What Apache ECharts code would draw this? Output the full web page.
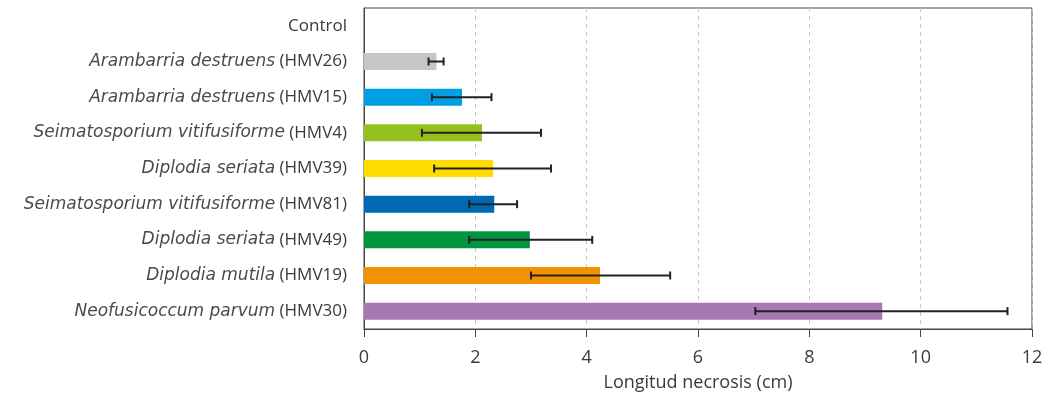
<!DOCTYPE html>
<html>
<head>
<meta charset="utf-8">
<script src="https://cdn.jsdelivr.net/npm/echarts@6/dist/echarts.min.js"></script>
<style>html,body{margin:0;padding:0;background:#fff;}#c{width:1047px;height:394px;}</style>
</head>
<body>
<div id="c"></div>
<script>
var species = ['', 'Arambarria destruens', 'Arambarria destruens', 'Seimatosporium vitifusiforme', 'Diplodia seriata', 'Seimatosporium vitifusiforme', 'Diplodia seriata', 'Diplodia mutila', 'Neofusicoccum parvum'];
var strains = ['Control', '(HMV26)', '(HMV15)', '(HMV4)', '(HMV39)', '(HMV81)', '(HMV49)', '(HMV19)', '(HMV30)'];
var means = [0, 1.30, 1.76, 2.12, 2.32, 2.34, 2.98, 4.24, 9.31];
var errLow = [null, 1.16, 1.22, 1.04, 1.26, 1.89, 1.89, 3.00, 7.03];
var errHigh = [null, 1.43, 2.29, 3.18, 3.36, 2.75, 4.10, 5.50, 11.56];
var colors = ['#c6c6c6', '#c6c6c6', '#009fe3', '#95c11f', '#ffdd00', '#0069b4', '#009640', '#f39200', '#a778b1'];
var xTicks = [0, 2, 4, 6, 8, 10, 12];

var cats = strains.map(function (s, i) { return i; });
var font = '"Open Sans", "Noto Sans", sans-serif';
var italicFont = '"DejaVu Sans", "Open Sans", sans-serif';
var textColor = '#3a3a3a';

var barData = means.map(function (v, i) {
  return { value: v, itemStyle: { color: colors[i] } };
});
var errData = [];
for (var i = 0; i < means.length; i++) {
  if (errLow[i] != null) errData.push([errLow[i], errHigh[i], i]);
}

var chart = echarts.init(document.getElementById('c'));
chart.setOption({
  animation: false,
  backgroundColor: '#fff',
  grid: { left: 364, right: 15, top: 8, bottom: 65, containLabel: false, outerBoundsMode: 'none', show: true, borderColor: '#444', borderWidth: 1, backgroundColor: 'transparent' },
  xAxis: {
    type: 'value', min: xTicks[0], max: xTicks[xTicks.length - 1], interval: 2,
    name: 'Longitud necrosis (cm)', nameLocation: 'middle', nameGap: 45,
    nameTextStyle: { fontFamily: font, fontSize: 18, color: textColor },
    axisLine: { show: true, lineStyle: { color: '#444', width: 1 } },
    axisTick: { show: true, length: 8, lineStyle: { color: '#444' } },
    axisLabel: { fontFamily: font, fontSize: 18, color: textColor, margin: 20 },
    splitLine: { show: true, lineStyle: { color: '#c8c8c8', type: [4, 4], width: 1 } }
  },
  yAxis: {
    type: 'category', inverse: true, data: cats,
    axisLine: { show: true, lineStyle: { color: '#444', width: 1 } },
    axisTick: { show: false },
    axisLabel: {
      margin: 17, fontFamily: font, fontSize: 17, color: textColor,
      formatter: function (v) {
        var i = +v;
        if (!species[i]) return '{n|' + strains[i] + '}';
        return '{i|' + species[i] + '} {n|' + strains[i] + '}';
      },
      rich: {
        i: { fontFamily: italicFont, fontSize: 17, fontStyle: 'italic', color: '#4a4a4a' },
        n: { fontFamily: font, fontSize: 17, color: textColor }
      }
    },
    splitLine: { show: false }
  },
  series: [
    { type: 'bar', data: barData, barWidth: 17, silent: true },
    {
      type: 'custom', data: errData, silent: true, z: 5,
      renderItem: function (params, api) {
        var lo = api.coord([api.value(0), api.value(2)]);
        var hi = api.coord([api.value(1), api.value(2)]);
        var h = 4;
        var st = { stroke: '#222', lineWidth: 2 };
        return {
          type: 'group',
          children: [
            { type: 'line', shape: { x1: lo[0], y1: lo[1], x2: hi[0], y2: hi[1] }, style: st },
            { type: 'line', shape: { x1: lo[0], y1: lo[1] - h, x2: lo[0], y2: lo[1] + h }, style: st },
            { type: 'line', shape: { x1: hi[0], y1: hi[1] - h, x2: hi[0], y2: hi[1] + h }, style: st }
          ]
        };
      }
    }
  ]
});
</script>
</body>
</html>
